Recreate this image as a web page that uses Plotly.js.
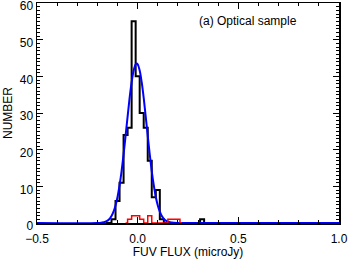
<!DOCTYPE html>
<html><head><meta charset="utf-8">
<script src="https://cdn.plot.ly/plotly-3.0.1.min.js"></script>
<style>html,body{margin:0;padding:0;background:#fff}#chart{width:349px;height:259px}</style>
</head><body><div id="chart"></div>
<script>
// Optical sample histogram (black), bin centers
const binCenters = [-0.16,-0.14,-0.12,-0.10,-0.08,-0.06,-0.04,-0.02,0.00,0.02,0.04,0.06,0.08,0.10,0.12,0.14,0.16,0.18,0.20,0.22,0.24,0.26,0.28,0.30,0.32,0.34,0.36];
const blackCounts = [0,0,1,6,11,24,26,55,40,30,26,17,7,9,1,0,0,0,0,0,0,0,0,0,1,0,0];
// red sub-sample histogram
const redCenters = [-0.06,-0.04,-0.02,0.00,0.02,0.04,0.06,0.08,0.10,0.12,0.14,0.16,0.18,0.20,0.22];
const redCounts = [0,1,2,2,1,0,2,0,0,0,0,1,1,1,0];
// fitted curve (blue)
const fitX = [-0.5,-0.2,-0.18,-0.16,-0.14,-0.13,-0.12,-0.11,-0.10,-0.09,-0.08,-0.07,-0.06,-0.05,-0.04,-0.03,-0.02,-0.01,-0.005,0.00,0.01,0.02,0.03,0.04,0.05,0.06,0.07,0.08,0.09,0.10,0.11,0.12,0.13,0.14,0.15,0.16,0.18,0.20,1.0];
const fitY = [0,0,0.1,0.36,1.1,1.9,3.1,4.8,7.1,10.3,14.1,18.7,23.8,29.0,34.1,38.4,41.6,43.3,43.5,43.3,41.6,38.4,34.1,29.0,23.8,18.7,14.1,10.3,7.1,4.8,3.1,1.9,1.1,0.65,0.36,0.19,0.05,0.01,0];

const xTickVals = [-0.5,0,0.5,1.0];
const xTickText = ['\u22120.5','0.0','0.5','1.0'];
const yTickVals = [0,10,20,30,40,50,60];

const font = {family:'Liberation Sans, Arial, sans-serif', size:12, color:'#000'};
const traces = [
  {x:binCenters, y:blackCounts, type:'scatter', mode:'lines', line:{shape:'hvh', color:'#000', width:2}, hoverinfo:'skip'},
  {x:fitX, y:fitY, type:'scatter', mode:'lines', line:{shape:'spline', color:'#0000ff', width:2}, hoverinfo:'skip'},
  {x:redCenters, y:redCounts, type:'scatter', mode:'lines', line:{shape:'hvh', color:'#ff0000', width:1.5}, hoverinfo:'skip'}
];
const axBase = {showline:true, linecolor:'#000', linewidth:1.5, mirror:'allticks', ticks:'inside', tickcolor:'#000', tickwidth:1, ticklen:6, showgrid:false, zeroline:false, tickfont:font, ticklabeloverflow:'allow'};
const layout = {
  width:349, height:259, showlegend:false,
  paper_bgcolor:'#fff', plot_bgcolor:'#fff',
  margin:{l:37, r:10, t:3, b:36},
  font:font,
  xaxis:Object.assign({}, axBase, {range:[-0.5,1.0], tickvals:xTickVals, ticktext:xTickText, ticklabelstandoff:4,
    minor:{dtick:0.1, tick0:-0.5, ticks:'inside', ticklen:3, tickcolor:'#000', tickwidth:1},
    title:{text:'FUV FLUX (microJy)', font:font, standoff:4}}),
  yaxis:Object.assign({}, axBase, {range:[0,60], tickvals:yTickVals, ticklabelstandoff:0, ticklabelshift:3,
    minor:{dtick:1, tick0:0, ticks:'inside', ticklen:3, tickcolor:'#000', tickwidth:1},
    title:{text:'NUMBER', font:font, standoff:4}}),
  annotations:[{text:'(a) Optical sample', x:0.53, y:0.92, xref:'paper', yref:'paper', xanchor:'left', yanchor:'middle', showarrow:false, font:font}]
};
Plotly.newPlot('chart', traces, layout, {staticPlot:true, displayModeBar:false});
</script></body></html>
